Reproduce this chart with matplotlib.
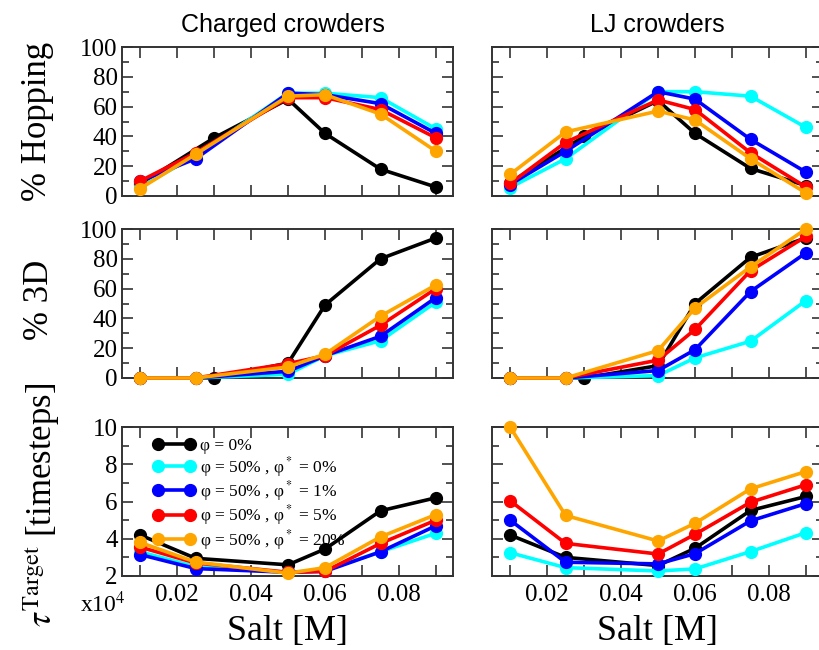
import matplotlib
matplotlib.use('Agg')
import matplotlib.pyplot as plt
from matplotlib.ticker import MultipleLocator, FuncFormatter

plt.rcParams['font.family'] = ['Liberation Serif', 'DejaVu Serif']
plt.rcParams['mathtext.fontset'] = 'stix'

# salt concentrations [M]
salt = [0.01, 0.025, 0.05, 0.06, 0.075, 0.09]
salt_k = [0.01, 0.03, 0.05, 0.06, 0.075, 0.09]   # black series in hopping / 3D panels

labels = [r'φ = 0%', r'φ = 50% , φ$^*$ = 0%', r'φ = 50% , φ$^*$ = 1%',
          r'φ = 50% , φ$^*$ = 5%', r'φ = 50% , φ$^*$ = 20%']
colors = ['black', '#00ffff', '#0000ff', '#ff0000', '#ffa500']

# % hopping
hop_ch = [[8, 39, 65, 42, 18, 6],
          [6, 27, 69, 69, 66, 45],
          [10, 25, 69, 68, 62, 42],
          [10, 29, 66, 66, 58, 39],
          [5, 28, 67, 68, 55, 30]]
hop_lj = [[9, 40, 64, 42, 18.5, 7],
          [5.7, 25, 70, 70, 67, 46],
          [7.7, 30, 70, 65, 38, 16],
          [8.4, 36, 64.5, 58, 29, 6],
          [14.5, 43, 57, 51, 25, 2]]

# % 3D
d3_ch = [[0, 0, 10, 49, 80, 94],
         [0, 0, 2.5, 15, 25, 51],
         [0, 0, 4.5, 15, 28, 54],
         [0, 0, 9.6, 15, 35.4, 60],
         [0, 0, 7.4, 16, 41.5, 62.5]]
d3_lj = [[0, 0, 8.3, 50, 81, 94],
         [0, 0, 1.6, 13.5, 24.7, 52],
         [0, 0, 5, 19, 58, 84],
         [0, 0, 12, 32.6, 72, 95],
         [0, 0, 18.4, 47, 74.6, 100]]

# tau target [x10^4 timesteps]
tau_ch = [[4.2, 2.95, 2.6, 3.45, 5.5, 6.2],
          [3.3, 2.5, 2.2, 2.3, 3.3, 4.3],
          [3.15, 2.4, 2.2, 2.25, 3.3, 4.7],
          [3.55, 2.7, 2.2, 2.25, 3.75, 5.0],
          [3.8, 2.75, 2.15, 2.45, 4.1, 5.3]]
tau_lj = [[4.2, 3.0, 2.56, 3.49, 5.52, 6.27],
          [3.25, 2.45, 2.27, 2.38, 3.31, 4.33],
          [5.0, 2.74, 2.65, 3.2, 4.96, 5.89],
          [6.04, 3.75, 3.18, 4.24, 5.96, 6.9],
          [10.0, 5.25, 3.88, 4.83, 6.68, 7.61]]

fig = plt.figure(figsize=(8.2, 6.5), dpi=100)

W = 331 / 820
H = 149 / 650
lefts = [122 / 820, 492 / 820]
bottoms = [1 - 196 / 650, 1 - 378 / 650, 1 - 576 / 650]

panels = [[hop_ch, hop_lj], [d3_ch, d3_lj], [tau_ch, tau_lj]]
axes = []
for r in range(3):
    row = []
    for c in range(2):
        ax = fig.add_axes([lefts[c], bottoms[r], W, H])
        data = panels[r][c]
        for i in range(5):
            xs = salt_k if (i == 0 and r < 2) else salt
            ax.plot(xs, data[i], '-o', color=colors[i], lw=2.6, ms=8.5,
                    label=labels[i], clip_on=False, zorder=3 + i)
        ax.set_xlim(0.0051, 0.0946)
        ax.xaxis.set_major_locator(MultipleLocator(0.01))
        if r == 2:
            ax.set_ylim(2, 10)
            ax.yaxis.set_major_locator(MultipleLocator(2))
            ax.yaxis.set_minor_locator(MultipleLocator(1))
            ax.xaxis.set_major_formatter(FuncFormatter(
                lambda v, p: ('%.2f' % v) if round(v * 100) % 2 == 0 and v > 0.015 else ''))
        else:
            ax.set_ylim(0, 100)
            ax.yaxis.set_major_locator(MultipleLocator(20))
            ax.yaxis.set_minor_locator(MultipleLocator(10))
            ax.tick_params(axis='x', labelbottom=False)
        ax.tick_params(which='both', direction='in', top=True, right=True,
                       labelsize=18, color='#333333', width=1.2)
        ax.tick_params(which='major', length=8)
        ax.tick_params(which='minor', length=5)
        ax.tick_params(axis='x', pad=6)
        ax.tick_params(axis='y', pad=3)
        if c == 1:
            ax.tick_params(axis='y', labelleft=False)
        for s in ax.spines.values():
            s.set_color('#333333')
            s.set_linewidth(1.4)
        row.append(ax)
    axes.append(row)

fig.text(283 / 820, 1 - 32 / 650, 'Charged crowders', family='Liberation Sans',
         fontsize=18, ha='center', va='baseline')
fig.text(657 / 820, 1 - 32 / 650, 'LJ crowders', family='Liberation Sans',
         fontsize=18, ha='center', va='baseline')

fig.text(38 / 820, 1 - 121 / 650, '% Hopping', rotation=90, fontsize=25,
         ha='center', va='center')
fig.text(40 / 820, 1 - 300 / 650, '% 3D', rotation=90, fontsize=25,
         ha='center', va='center')
fig.text(42 / 820, 1 - 505 / 650, r'$\tau^{\mathrm{Target}}$ [timesteps]', rotation=90,
         fontsize=25, ha='center', va='center')
fig.text(80 / 820, 1 - 612 / 650, r'x10$^4$', fontsize=17, ha='left', va='baseline')

fig.text(287 / 820, 1 - 640 / 650, 'Salt [M]', fontsize=26, ha='center', va='baseline')
fig.text(657 / 820, 1 - 640 / 650, 'Salt [M]', fontsize=26, ha='center', va='baseline')

axes[2][0].legend(loc='upper left', bbox_to_anchor=(0.06, 1.0), frameon=False,
                  numpoints=2, handlelength=2.4, handletextpad=0.3,
                  labelspacing=0.02, fontsize=12.5, borderaxespad=0.25)

fig.savefig('out.png', dpi=100)
